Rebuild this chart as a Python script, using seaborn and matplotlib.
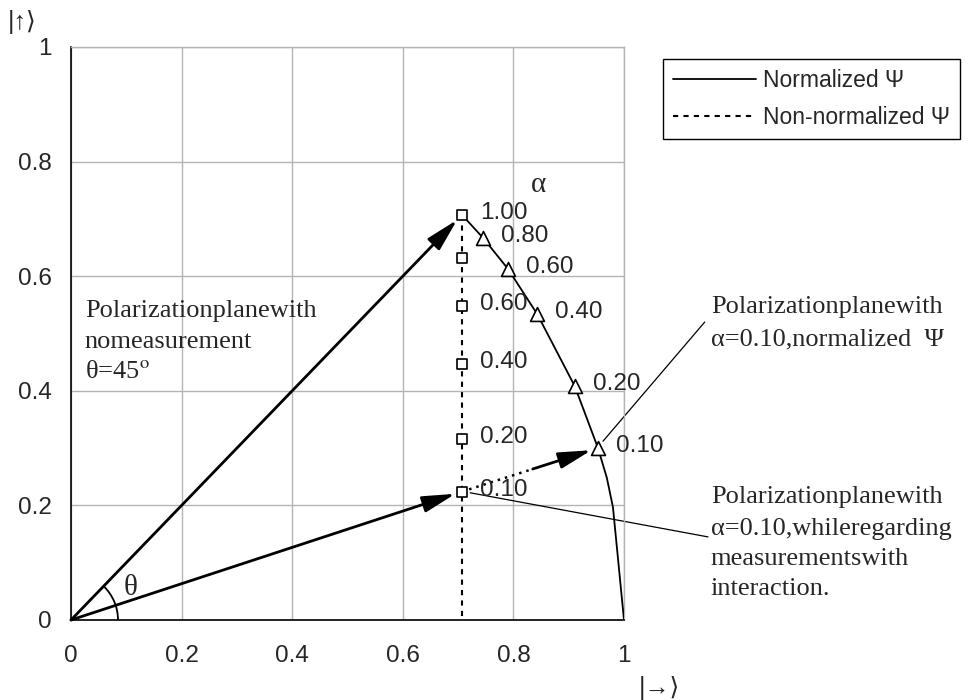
import numpy as np
import pandas as pd
import matplotlib
matplotlib.use("Agg")
import matplotlib.pyplot as plt
from matplotlib.lines import Line2D
from matplotlib.patches import Arc
import seaborn as sns

# --- data ---
alpha_labels = ['1.00', '0.80', '0.60', '0.40', '0.20', '0.10']

# normalized state (triangles on alpha = 0.80 ... 0.10), curve runs on to (1, 0)
norm_x = [0.707, 0.745, 0.790, 0.843, 0.911, 0.953, 0.969, 0.980, 1.000]
norm_y = [0.707, 0.667, 0.613, 0.534, 0.408, 0.300, 0.248, 0.197, 0.000]

# non-normalized state (squares), dotted line down to the x axis
sq_x = [0.707, 0.707, 0.707, 0.707, 0.707, 0.707, 0.707]
sq_y = [0.707, 0.632, 0.548, 0.447, 0.316, 0.224, 0.000]
sq_labels = ['1.00', '', '0.60', '0.40', '0.20', '0.10']

ticks = [0, 0.2, 0.4, 0.6, 0.8, 1.0]
tick_labels = ['0', '0.2', '0.4', '0.6', '0.8', '1']

sns.set_style("whitegrid")
plt.rcParams['font.family'] = ['Liberation Sans', 'DejaVu Sans']
plt.rcParams['mathtext.fontset'] = 'stix'
serif = ['Liberation Serif', 'DejaVu Serif']

fig = plt.figure(figsize=(9.8, 7), dpi=100)
ax = fig.add_axes([71 / 980, 1 - 620 / 700, 553 / 980, 573 / 700])

norm_df = pd.DataFrame({'x': norm_x, 'y': norm_y})
sq_df = pd.DataFrame({'x': sq_x, 'y': sq_y})

dots = (0, (2.5, 2.5))
sns.lineplot(data=norm_df, x='x', y='y', sort=False, estimator=None,
             color='black', lw=1.3, ax=ax, zorder=3)
sns.lineplot(data=sq_df, x='x', y='y', sort=False, estimator=None,
             color='black', lw=1.5, linestyle=dots, ax=ax, zorder=3)

tri_df = norm_df.iloc[1:6]
sns.scatterplot(data=tri_df, x='x', y='y', marker='^', s=100,
                facecolor='white', edgecolor='black', linewidth=1.2, ax=ax, zorder=5)
sns.scatterplot(data=sq_df.iloc[:6], x='x', y='y', marker='s', s=60,
                facecolor='white', edgecolor='black', linewidth=1.2, ax=ax, zorder=5)

# alpha labels next to the markers
for i, lab in enumerate(alpha_labels[1:], start=1):
    ax.annotate(lab, (norm_x[i], norm_y[i]), xytext=(18, 2), textcoords='offset pixels',
                ha='left', va='center', fontsize=17.5, zorder=6)
for i, lab in enumerate(sq_labels):
    if lab:
        ax.annotate(lab, (sq_x[i], sq_y[i]), xytext=(18, 2), textcoords='offset pixels',
                    ha='left', va='center', fontsize=17.5, zorder=6)
ax.text(0.845, 0.759, 'α', fontsize=21, family=serif, ha='center', va='center')

# arrows
head = '-|>,head_length=1.0,head_width=0.25'
for ty in [sq_y[0], sq_y[5]]:
    ax.annotate('', xy=(sq_x[0], ty), xytext=(0, 0),
                arrowprops=dict(arrowstyle=head, lw=2, color='black',
                                mutation_scale=20, shrinkA=0, shrinkB=5), zorder=4)
frac = 0.52
mx = sq_x[5] + frac * (norm_x[5] - sq_x[5])
my = sq_y[5] + frac * (norm_y[5] - sq_y[5])
ax.plot([sq_x[5], mx], [sq_y[5], my], color='black', lw=1.8, ls=(0, (1, 2)), zorder=4)
ax.annotate('', xy=(norm_x[5], norm_y[5]), xytext=(mx, my),
            arrowprops=dict(arrowstyle=head, lw=2, color='black',
                            mutation_scale=20, shrinkA=0, shrinkB=5), zorder=4)

# angle theta
ax.add_patch(Arc((0, 0), 2 * 0.085, 2 * 0.082, theta1=0, theta2=45, color='black', lw=1.3))
ax.text(0.107, 0.056, 'θ', fontsize=21, family=serif, ha='center', va='center')

# text annotations (serif)
left_lines = ['Polarizationplanewith', 'nomeasurement', 'θ=45$^{\\mathrm{o}}$']
for line, yb in zip(left_lines, [0.529, 0.475, 0.422]):
    ax.text(0.025, yb, line, fontsize=19, family=serif, va='baseline', ha='left')

r1_lines = ['Polarizationplanewith', 'α=0.10,normalized  Ψ']
for line, yb in zip(r1_lines, [0.536, 0.480]):
    ax.text(1.157, yb, line, fontsize=19, family=serif, va='baseline', ha='left', clip_on=False)
r2_lines = ['Polarizationplanewith', 'α=0.10,whileregarding', 'measurementswith', 'interaction.']
for line, yb in zip(r2_lines, [0.204, 0.148, 0.096, 0.044]):
    ax.text(1.157, yb, line, fontsize=19, family=serif, va='baseline', ha='left', clip_on=False)

ax.plot([0.962, 1.146], [0.312, 0.520], color='black', lw=0.9, clip_on=False)
ax.plot([0.722, 1.152], [0.222, 0.145], color='black', lw=0.9, clip_on=False)

# axes styling
ax.set_xlim(0, 1)
ax.set_ylim(0, 1)
ax.set_xticks(ticks)
ax.set_yticks(ticks)
ax.set_xticklabels(tick_labels, fontsize=17.5)
ax.set_yticklabels(tick_labels, fontsize=17.5)
ax.set_xlabel('')
ax.set_ylabel('')
ax.grid(True, color='#b4b4b4', lw=1)
for side in ['left', 'bottom']:
    ax.spines[side].set_color('black')
    ax.spines[side].set_linewidth(1.2)
for side in ['top', 'right']:
    ax.spines[side].set_color('#b4b4b4')
    ax.spines[side].set_linewidth(1)
ax.tick_params(axis='both', direction='out', length=6, width=1, color='black')
ax.tick_params(axis='x', pad=12)
ax.tick_params(axis='y', pad=8)

fig.text(22 / 980, 1 - 22 / 700, '|↑⟩', fontsize=18, ha='center', va='center')
fig.text(659 / 980, 1 - 688 / 700, '|→⟩', fontsize=18, ha='center', va='center')

handles = [Line2D([], [], color='black', lw=1.3),
           Line2D([], [], color='black', lw=1.5, ls=dots)]
leg = fig.legend(handles, ['Normalized Ψ', 'Non-normalized Ψ'], loc='upper left',
                 bbox_to_anchor=(663 / 980, 1 - 59 / 700), borderaxespad=0,
                 fontsize=16.5, handlelength=3.6, frameon=True, fancybox=False,
                 edgecolor='black', framealpha=1, borderpad=0.45, labelspacing=0.6,
                 handletextpad=0.3)
leg.get_frame().set_linewidth(1)

fig.savefig('out.png', dpi=100)
